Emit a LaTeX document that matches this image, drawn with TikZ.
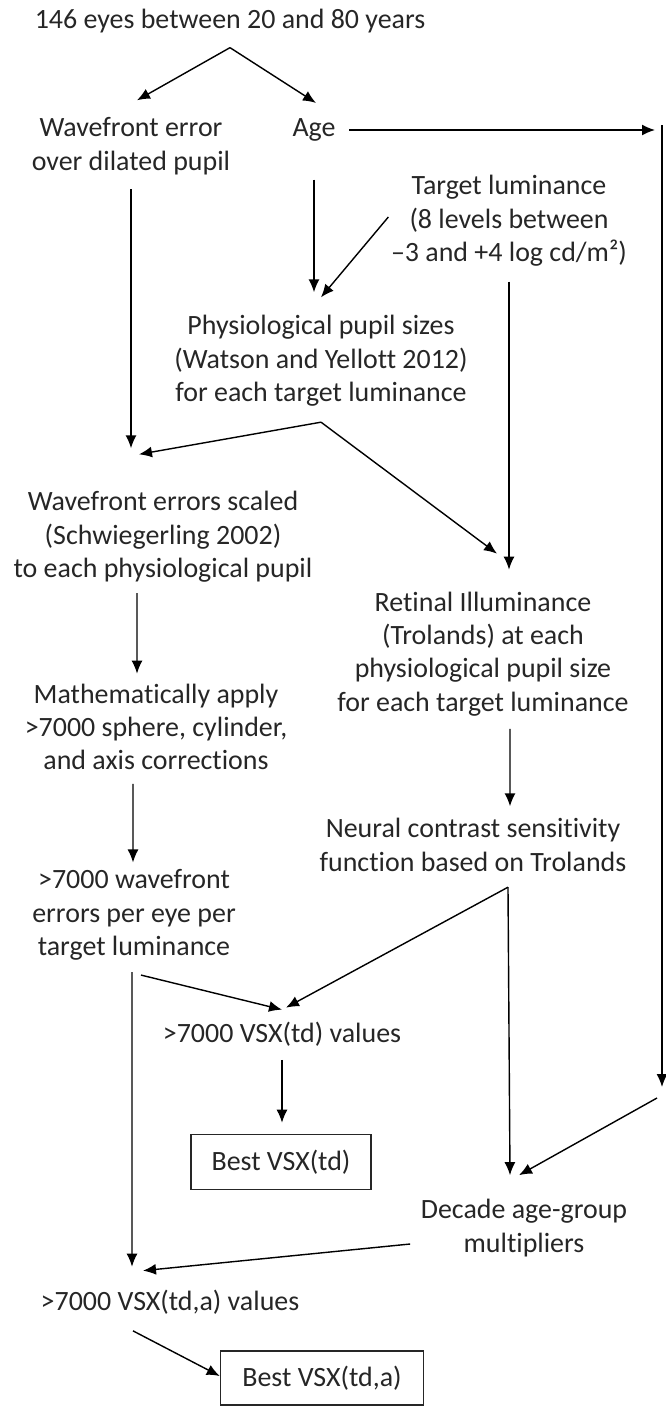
\documentclass[tikz,border=0pt]{standalone}
\usepackage{fontspec}
\setmainfont[Ligatures=NoCommon]{Carlito}
\usetikzlibrary{arrows.meta}

\begin{document}
\begin{tikzpicture}[x=0.02cm,y=-0.02cm,>={Latex[length=2.6mm,width=2.2mm]},line width=0.8pt,
  txt/.style={align=center,inner sep=0pt,text=black!85,font=\fontsize{15.9}{19}\selectfont},
  result/.style={txt,draw=black!85,line width=0.9pt,minimum height=1.1cm}]
\useasboundingbox (0,0) rectangle (666,1410);
\node[txt] (eyes) at (230,21) {146 eyes between 20 and 80 years};
\node[txt] (wave) at (131,146) {Wavefront error\\over dilated pupil};
\node[txt] (age) at (314,130) {Age};
\node[txt] (target) at (509,221) {Target luminance\\(8 levels between\\–3 and +4 log cd/m²)};
\node[txt] (phys) at (321,361) {Physiological pupil sizes\\(Watson and Yellott 2012)\\for each target luminance};
\node[txt] (scaled) at (163,537) {Wavefront errors scaled\\(Schwiegerling 2002)\\to each physiological pupil};
\node[txt] (retinal) at (483,654) {Retinal Illuminance\\(Trolands) at each\\physiological pupil size\\for each target luminance};
\node[txt] (math) at (156,727) {Mathematically apply\\>7000 sphere, cylinder,\\and axis corrections};
\node[txt] (neural) at (473,845) {Neural contrast sensitivity\\function based on Trolands};
\node[txt] (wf) at (134,915) {>7000 wavefront\\errors per eye per\\target luminance};
\node[txt] (vsx) at (282,1034) {>7000 VSX(td) values};
\node[result,minimum width=3.6cm] (best) at (281,1162) {Best VSX(td)};
\node[txt] (decade) at (524,1228) {Decade age-group\\multipliers};
\node[txt] (vsxa) at (170,1302) {>7000 VSX(td,a) values};
\node[result,minimum width=4.06cm,minimum height=1.08cm] (besta) at (322,1378) {Best VSX(td,a)};
\coordinate (rtop) at (662,125);
\coordinate (rbot) at (662,1087);

\draw[->] ([yshift=-0.28cm]eyes.south) -- ([xshift=0.12cm,yshift=0.33cm]wave.north);
\draw[->] ([yshift=-0.28cm]eyes.south) -- ([xshift=0.04cm,yshift=0.3cm]age.north);
\draw[->,shorten >=0.14cm] ([xshift=0.26cm]age.east) -- (age.east -| rtop);
\draw[->] (rtop) -- (rbot);
\draw[->] ([xshift=-0.1cm,yshift=-0.22cm]rbot) -- ([xshift=-0.1cm,yshift=0.47cm]decade.north);
\draw[->,shorten <=0.28cm,shorten >=0.85cm] (wave.south) -- (wave.south |- scaled.north);
\draw[->,shorten <=0.75cm,shorten >=0.45cm] (age.south) -- (age.south |- phys.north);
\draw[->] ([xshift=-0.04cm,yshift=0.08cm]target.west) -- ([yshift=0.35cm]phys.north);
\draw[->,shorten <=0.29cm,shorten >=0.43cm] (target.south) -- (target.south |- retinal.north);
\draw[->] ([yshift=-0.3cm]phys.south) -- ([xshift=-0.48cm,yshift=0.73cm]scaled.north);
\draw[->] ([yshift=-0.3cm]phys.south) -- ([xshift=0.28cm,yshift=0.75cm]retinal.north);
\draw[->] ([xshift=-0.52cm,yshift=-0.2cm]scaled.south) -- ([xshift=-0.38cm,yshift=0.19cm]math.north);
\draw[->] ([xshift=-0.46cm,yshift=-0.26cm]math.south) -- ([xshift=-0.02cm,yshift=0.13cm]wf.north);
\draw[->] ([xshift=0.54cm,yshift=-0.24cm]retinal.south) -- ([xshift=0.74cm,yshift=0.23cm]neural.north);
\draw[->] ([xshift=0.7cm,yshift=-0.3cm]neural.south) -- ([xshift=0.08cm,yshift=0.27cm]vsx.north);
\draw[->] ([xshift=0.7cm,yshift=-0.3cm]neural.south) -- ([xshift=-0.28cm,yshift=0.47cm]decade.north);
\draw[->] ([xshift=0.14cm,yshift=-0.28cm]wf.south) -- ([yshift=0.23cm]vsx.north);
\draw[->] ([xshift=-0.04cm,yshift=-0.22cm]wf.south) -- ([xshift=-0.76cm,yshift=0.45cm]vsxa.north);
\draw[->,shorten <=0.26cm,shorten >=0.22cm] (vsx.south) -- (vsx.south |- best.north);
\draw[->] ([xshift=-0.2cm,yshift=-0.32cm]decade.west) -- ([xshift=-0.54cm,yshift=0.37cm]vsxa.north);
\draw[->] ([xshift=-0.74cm,yshift=-0.32cm]vsxa.south) -- ([yshift=0.04cm]besta.west);
\end{tikzpicture}
\end{document}
